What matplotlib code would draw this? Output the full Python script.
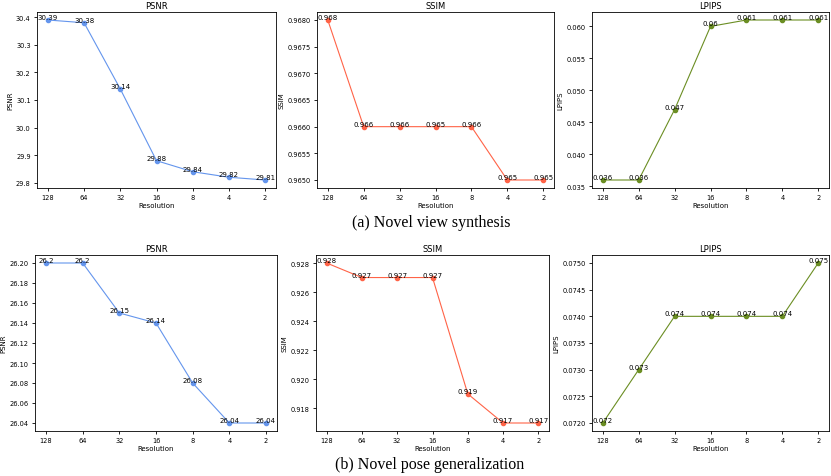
import matplotlib
matplotlib.use('Agg')
import matplotlib.pyplot as plt

resolutions = ['128', '64', '32', '16', '8', '4', '2']

# (a) novel view synthesis
view_psnr = [30.39, 30.38, 30.14, 29.88, 29.84, 29.82, 29.81]
view_ssim = [0.968, 0.966, 0.966, 0.966, 0.966, 0.965, 0.965]
view_ssim_labels = ['0.968', '0.966', '0.966', '0.965', '0.966', '0.965', '0.965']
view_lpips = [0.036, 0.036, 0.047, 0.060, 0.061, 0.061, 0.061]
view_lpips_labels = ['0.036', '0.036', '0.047', '0.06', '0.061', '0.061', '0.061']

# (b) novel pose generalization
pose_psnr = [26.20, 26.20, 26.15, 26.14, 26.08, 26.04, 26.04]
pose_psnr_labels = ['26.2', '26.2', '26.15', '26.14', '26.08', '26.04', '26.04']
pose_ssim = [0.928, 0.927, 0.927, 0.927, 0.919, 0.917, 0.917]
pose_lpips = [0.072, 0.073, 0.074, 0.074, 0.074, 0.074, 0.075]

colors = {'PSNR': '#6495ED', 'SSIM': '#FF6347', 'LPIPS': '#6B8E23'}

W, H = 831, 477
fig = plt.figure(figsize=(W / 100, H / 100), dpi=100)


def panel(box, name, values, labels, fmt):
    l, t, r, b = box
    ax = fig.add_axes([l / W, 1 - b / H, (r - l) / W, (b - t) / H])
    x = list(range(len(resolutions)))
    ax.plot(x, values, color=colors[name], marker='o', markersize=3, linewidth=0.8)
    for xi, v, s in zip(x, values, labels):
        ax.text(xi, v, s, ha='center', va='bottom', fontsize=5)
    ax.set_xticks(x)
    ax.set_xticklabels(resolutions)
    ax.yaxis.set_major_formatter(plt.FormatStrFormatter(fmt))
    ax.tick_params(labelsize=4.8, length=2.5, width=0.6, pad=2)
    ax.set_title(name, fontsize=6, pad=3)
    ax.set_xlabel('Resolution', fontsize=5, labelpad=1.5)
    ax.set_ylabel(name, fontsize=5, labelpad=2)
    for s in ax.spines.values():
        s.set_linewidth(0.6)
    return ax


panel((37, 13, 276, 189), 'PSNR', view_psnr, ['%.2f' % v for v in view_psnr], '%.1f')
panel((317, 13, 554, 189), 'SSIM', view_ssim, view_ssim_labels, '%.4f')
panel((592, 13, 829, 189), 'LPIPS', view_lpips, view_lpips_labels, '%.3f')

panel((35, 256, 277, 432), 'PSNR', pose_psnr, pose_psnr_labels, '%.2f')
panel((316, 256, 549, 432), 'SSIM', pose_ssim, ['%.3f' % v for v in pose_ssim], '%.3f')
panel((592, 256, 829, 432), 'LPIPS', pose_lpips, ['%.3f' % v for v in pose_lpips], '%.4f')

fig.text(431 / W, 1 - 223 / H, '(a) Novel view synthesis', ha='center', va='center',
         fontsize=11.5, family='Liberation Serif')
fig.text(430 / W, 1 - 465 / H, '(b) Novel pose generalization', ha='center', va='center',
         fontsize=11.5, family='Liberation Serif')

fig.savefig('out.png', dpi=100)
